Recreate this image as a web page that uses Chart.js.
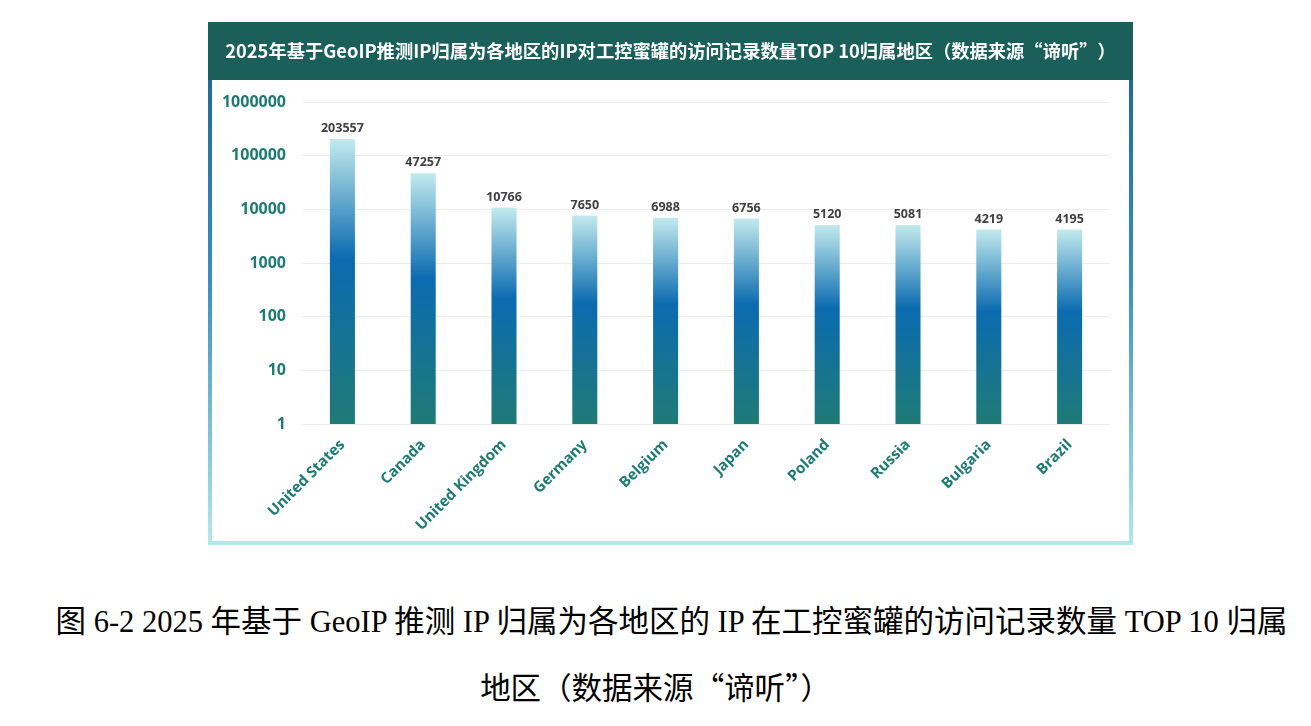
<!DOCTYPE html>
<html>
<head>
<meta charset="utf-8">
<script src="https://cdn.jsdelivr.net/npm/chart.js@4/dist/chart.umd.min.js"></script>
<style>
	body { margin: 0; background: #fff; width: 1311px; height: 726px; position: relative; overflow: hidden; }
	#box { position: absolute; left: 208px; top: 22px; width: 925px; height: 523px; }
	#caption { position: absolute; left: 0; top: 590px; width: 1311px; text-align: center;
		font-family: "Liberation Serif", "Noto Sans CJK SC", serif; font-size: 30.5px; line-height: 64px; color: #000; }
	#caption .l1 { padding-left: 32px; white-space: nowrap; }
	#caption .q { font-family: "Noto Sans CJK SC", sans-serif; }
</style>
</head>
<body>
<div id="box"><canvas id="geoChart" width="925" height="523"></canvas></div>
<div id="caption"><div class="l1">图 6-2 2025 年基于 GeoIP 推测 IP 归属为各地区的 IP 在工控蜜罐的访问记录数量 TOP 10 归属</div><div>地区（数据来源<span class="q">“</span>谛听<span class="q">”</span>）</div></div>
<script>
var titleText = '2025年基于GeoIP推测IP归属为各地区的IP对工控蜜罐的访问记录数量TOP 10归属地区（数据来源“谛听”）';
var countries = ['United States', 'Canada', 'United Kingdom', 'Germany', 'Belgium', 'Japan', 'Poland', 'Russia', 'Bulgaria', 'Brazil'];
var visits = [203557, 47257, 10766, 7650, 6988, 6756, 5120, 5081, 4219, 4195];
var yTicks = [1, 10, 100, 1000, 10000, 100000, 1000000];

var teal = '#1e7b73';

// frame + title bar behind the chart
Chart.register({
	id: 'frame',
	beforeDraw: function (chart) {
		var ctx = chart.ctx;
		var w = chart.width, h = chart.height;
		ctx.save();
		ctx.fillStyle = '#ffffff';
		ctx.fillRect(0, 0, w, h);
		var g = ctx.createLinearGradient(0, 0, 0, h);
		g.addColorStop(0, '#1a5f8f');
		g.addColorStop(0.5, '#3b8fc0');
		g.addColorStop(1, '#b3e8e9');
		ctx.strokeStyle = g;
		ctx.lineWidth = 4;
		ctx.strokeRect(2, 2, w - 4, h - 4);
		ctx.fillStyle = '#1b5f5b';
		ctx.fillRect(0, 0, w, 58);
		ctx.fillStyle = '#ffffff';
		ctx.font = 'bold 18.3px "Noto Sans CJK SC", "Open Sans", sans-serif';
		ctx.textAlign = 'center';
		ctx.textBaseline = 'middle';
		ctx.fillText(titleText, w / 2, 29);
		ctx.restore();
	}
});

// value labels on top of the bars
Chart.register({
	id: 'barValues',
	afterDatasetsDraw: function (chart) {
		var ctx = chart.ctx;
		ctx.save();
		ctx.fillStyle = '#404040';
		ctx.font = 'bold 12.5px "Open Sans", sans-serif';
		ctx.textAlign = 'center';
		ctx.textBaseline = 'bottom';
		chart.getDatasetMeta(0).data.forEach(function (bar, i) {
			ctx.fillText(String(visits[i]), bar.x, bar.y - 4);
		});
		ctx.restore();
	}
});

function barGradient(context) {
	var chart = context.chart;
	var area = chart.chartArea;
	if (!area || context.parsed == null) return '#0b6bb0';
	var top = chart.scales.y.getPixelForValue(context.parsed.y);
	var g = chart.ctx.createLinearGradient(0, top, 0, area.bottom);
	g.addColorStop(0, '#c2eaee');
	g.addColorStop(0.42, '#0b6bb0');
	g.addColorStop(1, '#1f7b76');
	return g;
}

var ctx = document.getElementById('geoChart').getContext('2d');
var geoChart = new Chart(ctx, {
	type: 'bar',
	data: {
		labels: countries,
		datasets: [{
			label: '访问记录数量',
			data: visits,
			backgroundColor: barGradient,
			barPercentage: 0.31,
			categoryPercentage: 1
		}]
	},
	options: {
		responsive: false,
		animation: false,
		layout: { padding: { top: 80, left: 0, right: 23, bottom: 0 } },
		plugins: {
			legend: { display: false },
			tooltip: { enabled: false }
		},
		scales: {
			x: {
				grid: { display: false },
				border: { display: false },
				ticks: {
					color: teal,
					font: { family: 'Open Sans', size: 15, weight: 'bold' },
					maxRotation: 45,
					minRotation: 45,
					padding: 4
				},
				afterFit: function (s) { s.height = 121; }
			},
			y: {
				type: 'logarithmic',
				min: 1,
				max: 1000000,
				border: { display: false },
				grid: { color: '#ececec', drawTicks: false },
				ticks: {
					color: teal,
					font: { family: 'Open Sans', size: 16, weight: 'bold' },
					padding: 16,
					callback: function (v) { return String(v); }
				},
				afterBuildTicks: function (s) {
					s.ticks = yTicks.map(function (v) { return { value: v }; });
				},
				afterFit: function (s) { s.width = 94; }
			}
		}
	}
});
</script>
</body>
</html>
